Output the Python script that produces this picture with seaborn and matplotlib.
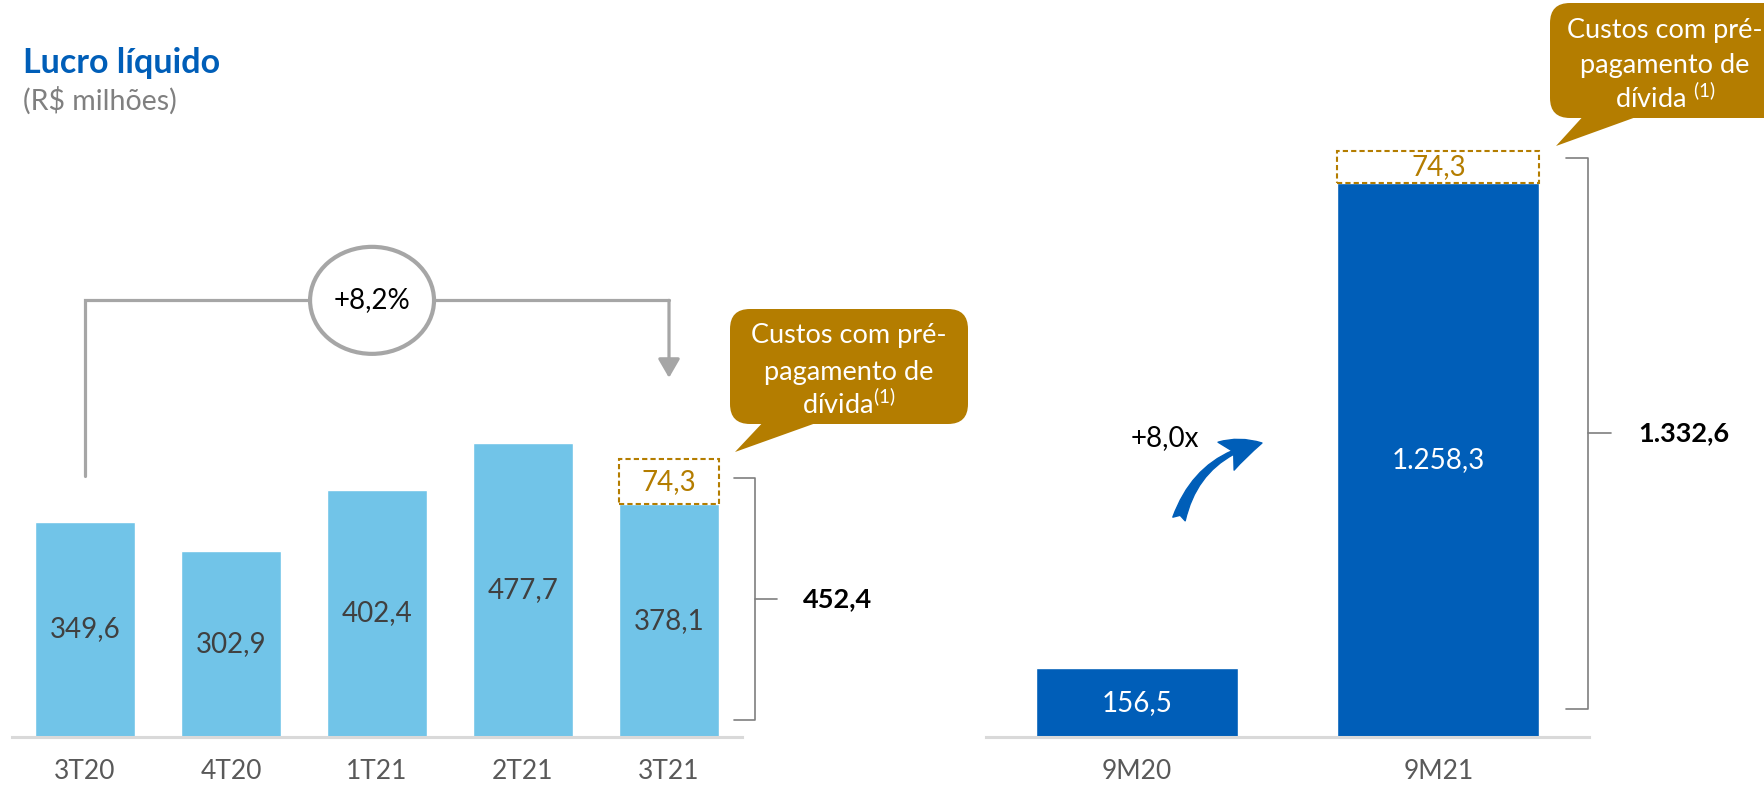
import matplotlib
matplotlib.use("Agg")
import matplotlib.pyplot as plt
import seaborn as sns
from matplotlib.patches import FancyBboxPatch, Polygon, Ellipse, FancyArrowPatch

# %% data
quarters = ["3T20", "4T20", "1T21", "2T21", "3T21"]
quarter_vals = [349.6, 302.9, 402.4, 477.7, 378.1]
periods = ["9M20", "9M21"]
period_vals = [156.5, 1258.3]
prepay_cost = 74.3
quarter_total = 452.4
period_total = 1332.6
qoq_label = "+8,2%"
yoy_label = "+8,0x"

LIGHT = "#71C4E8"
DARK = "#005EB8"
GOLD = "#B47D00"
LINE_GRAY = "#A6A6A6"
BRACKET = "#7F7F7F"
TXT = "#404040"


def br(v):
    # brazilian number format: 1.258,3
    s = f"{v:,.1f}"
    return s.replace(",", "X").replace(".", ",").replace("X", ".")


sns.set_theme(style="white")
plt.rcParams["font.family"] = ["Lato", "DejaVu Sans"]
plt.rcParams["mathtext.fontset"] = "custom"
plt.rcParams["mathtext.rm"] = "Lato"
plt.rcParams["mathtext.it"] = "Lato:italic"
plt.rcParams["mathtext.bf"] = "Lato:bold"

W, H = 1765, 788
fig = plt.figure(figsize=(W / 100, H / 100), dpi=100)


def px_box(x0, x1, y_top, y_bot):
    return [x0 / W, 1 - y_bot / H, (x1 - x0) / W, (y_bot - y_top) / H]


ax1 = fig.add_axes(px_box(12, 742, 0, 737))
ax2 = fig.add_axes(px_box(986.5, 1589, 0, 737))

# %% bars
sns.barplot(x=quarters, y=quarter_vals, color=LIGHT, saturation=1, width=0.68, ax=ax1)
sns.barplot(x=periods, y=period_vals, color=DARK, saturation=1, width=0.67, ax=ax2)

ax1.set_xlim(-0.5, 4.5)
ax1.set_ylim(0, 737 / 0.615)
ax2.set_xlim(-0.5, 1.5)
ax2.set_ylim(0, 737 / 0.44)

for ax in (ax1, ax2):
    sns.despine(ax=ax, left=True)
    ax.spines["bottom"].set_color("#D9D9D9")
    ax.spines["bottom"].set_linewidth(2.2)
    ax.set_yticks([])
    ax.set_xlabel("")
    ax.set_ylabel("")
    ax.tick_params(axis="x", length=0, pad=16, labelsize=19, labelcolor="#595959")
    ax.patch.set_alpha(0)

# values inside bars
for i, v in enumerate(quarter_vals):
    ax1.text(i, v / 2, br(v), ha="center", va="center", fontsize=20, color=TXT)
for i, v in enumerate(period_vals):
    ax2.text(i, v / 2, br(v), ha="center", va="center", fontsize=20, color="white")

# prepayment cost boxes on top of last bars
ax1.bar(4, prepay_cost, bottom=quarter_vals[-1], width=0.68, facecolor="white",
        edgecolor=GOLD, linestyle=(0, (2.5, 1.5)), linewidth=1.5)
ax1.text(4, quarter_vals[-1] + prepay_cost / 2, br(prepay_cost), ha="center",
         va="center", fontsize=20, color=GOLD)
ax2.bar(1, prepay_cost, bottom=period_vals[-1], width=0.67, facecolor="white",
        edgecolor=GOLD, linestyle=(0, (2.5, 1.5)), linewidth=1.5)
ax2.text(1, period_vals[-1] + prepay_cost / 2, br(prepay_cost), ha="center",
         va="center", fontsize=20, color=GOLD)

# brackets with totals
def bracket(ax, x0, x1, x2, y_bot, y_top, label, xl):
    ax.plot([x0, x1, x1, x0], [y_top, y_top, y_bot, y_bot], color=BRACKET,
            lw=1.2, clip_on=False)
    ym = (y_top + y_bot) / 2
    ax.plot([x1, x2], [ym, ym], color=BRACKET, lw=1.2, clip_on=False)
    ax.text(xl, ym, label, ha="left", va="center", fontsize=19.5,
            fontweight="bold", color="black", clip_on=False)


bracket(ax1, 4.445, 4.589, 4.74, 28, quarter_total - 31, br(quarter_total), 4.92)
bracket(ax2, 1.422, 1.497, 1.573, 64, period_total - 17, br(period_total), 1.665)

# %% quarter growth connector
y_top = 710
ax1.plot([0, 0, 4], [quarter_vals[0] + 75, y_top, y_top], color=LINE_GRAY, lw=2.3,
         solid_joinstyle="miter", clip_on=False)
ax1.annotate("", xy=(4, 584), xytext=(4, y_top),
             arrowprops=dict(arrowstyle="-|>,head_length=0.95,head_width=0.55",
                             color=LINE_GRAY, lw=2.3, shrinkA=0, shrinkB=0))
ax1.add_patch(Ellipse((1.966, y_top), 0.849, 174, facecolor="white",
                      edgecolor=LINE_GRAY, lw=3, zorder=5, clip_on=False))
ax1.text(1.966, y_top, qoq_label, ha="center", va="center", fontsize=20,
         color="black", zorder=6)

# %% overlay in pixel coords for callouts
ov = fig.add_axes([0, 0, 1, 1])
ov.set_axis_off()
ov.set_xlim(0, W)
ov.set_ylim(H, 0)


def callout(x0, y0, w, h, tail, lines, cx, ys):
    ov.add_patch(FancyBboxPatch((x0, y0), w, h, boxstyle="round,pad=0,rounding_size=20",
                                facecolor=GOLD, edgecolor="none", clip_on=False))
    ov.add_patch(Polygon(tail, closed=True, facecolor=GOLD, edgecolor="none"))
    for t, y in zip(lines, ys):
        ov.text(cx, y, t, ha="center", va="center", fontsize=19.5, color="white")


callout(730, 309, 238, 115, [(767, 418), (830, 418), (735, 452)],
        ["Custos com pré-", "pagamento de", r"dívida$^{(1)}$"], 849, [335, 372, 404])
callout(1550, 3, 240, 115, [(1587, 112), (1650, 112), (1556, 146)],
        ["Custos com pré-", "pagamento de", r"dívida $^{(1)}$"], 1665, [30, 65, 98])

# yearly growth arrow
ov.add_patch(FancyArrowPatch((1179, 519), (1262, 443),
                             connectionstyle="arc3,rad=-0.3",
                             arrowstyle="fancy,head_length=0.95,head_width=0.8,tail_width=0.32",
                             mutation_scale=29, color=DARK, shrinkA=0, shrinkB=0))
ov.text(1165, 438, yoy_label, ha="center", va="center", fontsize=20, color="black")

# %% titles
fig.text(23 / W, 1 - 73 / H, "Lucro líquido", ha="left", va="baseline", fontsize=24.5,
         fontweight="bold", color=DARK)
fig.text(23 / W, 1 - 110 / H, "(R$ milhões)", ha="left", va="baseline", fontsize=20.5,
         color="#808080")

fig.savefig("out.png", dpi=100)
